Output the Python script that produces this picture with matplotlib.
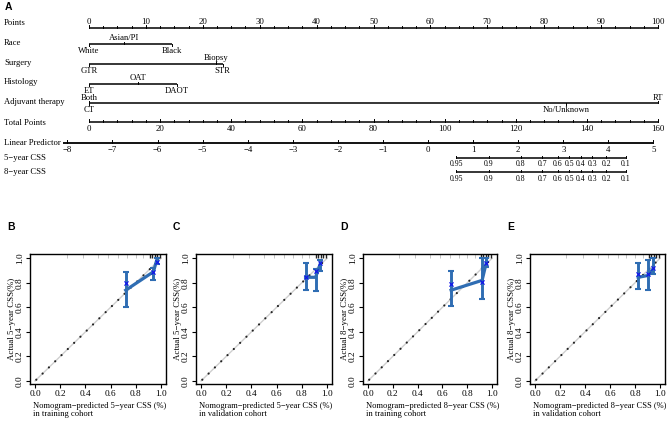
import numpy as np
import matplotlib
matplotlib.use('Agg')
import matplotlib.pyplot as plt
import matplotlib.transforms as mtransforms

plt.rcParams['font.family'] = ['Liberation Serif', 'DejaVu Serif']

W, H = 669, 423

# ---- nomogram data (points per level) ----
race_levels = ['White', 'Asian/PI', 'Black']
race_points = [0, 6.2, 14.5]
surgery_levels = ['GTR', 'Biopsy', 'STR']
surgery_points = [0, 22.4, 23.5]
histology_levels = ['ET', 'OAT', 'DAOT']
histology_points = [0, 8.6, 15.4]
adjuvant_levels = ['CT', 'Both', 'No/Unknown', 'RT']
adjuvant_points = [0, 0, 83.8, 100]

points_ticks = list(range(0, 101, 10))
total_ticks = list(range(0, 161, 20))
total_max = 160
lp_ticks = list(range(-8, 6))
lp_at_zero_points = -7.52
lp_per_point = 0.1262
css_ticks = [0.95, 0.9, 0.8, 0.7, 0.6, 0.5, 0.4, 0.3, 0.2, 0.1]
css5_lp = [0.62, 1.35, 2.06, 2.53, 2.88, 3.13, 3.39, 3.64, 3.95, 4.39]
css8_lp = [0.62, 1.35, 2.06, 2.53, 2.88, 3.13, 3.39, 3.64, 3.95, 4.39]

# ---- calibration data ----
b_pred = [0.72, 0.94, 0.965]
b_obs = [0.74, 0.89, 0.98]
b_lo = [0.60, 0.82, 0.95]
b_hi = [0.89, 0.92, 1.00]
b_corr = [0.80, 0.89, 0.97]

c_pred = [0.83, 0.91, 0.945]
c_obs = [0.845, 0.845, 0.95]
c_lo = [0.74, 0.73, 0.90]
c_hi = [0.96, 0.91, 0.99]
c_corr = [0.85, 0.90, 0.96]

d_pred = [0.67, 0.92, 0.955]
d_obs = [0.74, 0.82, 0.97]
d_lo = [0.61, 0.67, 0.93]
d_hi = [0.90, 1.00, 1.00]
d_corr = [0.79, 0.81, 0.96]

e_pred = [0.825, 0.905, 0.945]
e_obs = [0.845, 0.86, 0.915]
e_lo = [0.75, 0.74, 0.87]
e_hi = [0.965, 0.99, 1.00]
e_corr = [0.87, 0.87, 0.92]

rug_dark = [0.91, 0.93, 0.95, 0.97, 0.99]
rug_light = [0.25, 0.38, 0.5, 0.58, 0.66, 0.73, 0.8, 0.86]

calib_labels = ['B', 'C', 'D', 'E']
calib_years = ['5', '5', '8', '8']
calib_cohorts = ['training', 'validation', 'training', 'validation']

BLUE = '#2f6db3'

fig = plt.figure(figsize=(W / 100, H / 100), dpi=100)

# ---------------- nomogram ----------------
PX0, PX_PER_PT = 89, 5.69
NOM_H = 190
ax = fig.add_axes([0, 1 - NOM_H / H, 1, NOM_H / H])
ax.set_xlim(-PX0 / PX_PER_PT, (W - PX0) / PX_PER_PT)
ax.set_ylim(NOM_H, 0)
ax.axis('off')
lab_tr = mtransforms.blended_transform_factory(ax.transAxes, ax.transData)

FS_ROW = 6.2
FS_TICK = 6.3


def row_label(y, text):
    ax.text(4 / W, y, text, transform=lab_tr, ha='left', va='center', fontsize=FS_ROW)


def hline(y, x0, x1, lw=1.1):
    ax.plot([x0, x1], [y, y], color='black', lw=lw, solid_capstyle='butt')


def ticks_up(xs, y, length, lw=0.7):
    for x in xs:
        ax.plot([x, x], [y, y - length], color='black', lw=lw)


def draw_factor(y, levels, pts):
    # labels alternate below / above the line
    hline(y, min(pts), max(pts))
    for i, (lev, p) in enumerate(zip(levels, pts)):
        d = 1 if i % 2 == 0 else -1
        ax.plot([p, p], [y, y + 2 * d], color='black', lw=0.7)
        ax.text(p, y + (6.6 if d > 0 else -5.8), lev, ha='center', va='center', fontsize=FS_ROW)


# Points
y = 28
row_label(23, 'Points')
hline(y, 0, 100)
ticks_up(np.arange(0, 100.1, 2.5), y, 2)
ticks_up(points_ticks, y, 3)
for t in points_ticks:
    ax.text(t, y - 6.5, str(t), ha='center', va='center', fontsize=FS_TICK)

row_label(43, 'Race')
draw_factor(44, race_levels, race_points)
row_label(63, 'Surgery')
draw_factor(64, surgery_levels, surgery_points)
row_label(82, 'Histology')
draw_factor(84, histology_levels, histology_points)
row_label(102, 'Adjuvant therapy')
draw_factor(103.5, adjuvant_levels, adjuvant_points)

# Total points
y = 122
row_label(123, 'Total Points')
hline(y, 0, 100)
ticks_up(np.arange(0, total_max + 0.1, 4) * 100 / total_max, y, 2)
ticks_up(np.array(total_ticks) * 100 / total_max, y, 3)
for t in total_ticks:
    ax.text(t * 100 / total_max, y + 6.5, str(t), ha='center', va='center', fontsize=FS_TICK)


def lp_to_pts(v):
    return (np.asarray(v) - lp_at_zero_points) / lp_per_point


# Linear predictor
y = 143
row_label(143, 'Linear Predictor')
lp_x = lp_to_pts(lp_ticks)
hline(y, lp_x[0] - 0.7, lp_x[-1], lw=1.3)
ticks_up(lp_x, y, 2.5)
for t, x in zip(lp_ticks, lp_x):
    ax.text(x, y + 7, str(t).replace('-', '\u2212'), ha='center', va='center', fontsize=FS_TICK)

# CSS rows
for y, name, lp_vals in [(157.7, '5\u2212year CSS', css5_lp), (172.3, '8\u2212year CSS', css8_lp)]:
    row_label(y, name)
    cx = lp_to_pts(lp_vals)
    hline(y, cx[0], cx[-1])
    ticks_up(cx, y, 2)
    for t, x in zip(css_ticks, cx):
        ax.text(x, y + 6.3, f'{t:g}', ha='center', va='center', fontsize=5.6)

fig.text(5 / W, 1 - 7 / H, 'A', family='Liberation Sans', weight='bold', fontsize=7.5,
         ha='left', va='center')

# ---------------- calibration plots ----------------
panel_left = [30, 196, 363, 530]
panel_width = [136, 136, 134, 135]
AX_TOP, AX_BOT = 254, 384
panels = [(b_pred, b_obs, b_lo, b_hi, b_corr),
          (c_pred, c_obs, c_lo, c_hi, c_corr),
          (d_pred, d_obs, d_lo, d_hi, d_corr),
          (e_pred, e_obs, e_lo, e_hi, e_corr)]

for i, (pred, obs, lo, hi, corr) in enumerate(panels):
    left = panel_left[i]
    cax = fig.add_axes([left / W, 1 - AX_BOT / H, panel_width[i] / W, (AX_BOT - AX_TOP) / H])
    cax.set_xlim(-0.04, 1.04)
    cax.set_ylim(-0.025, 1.035)
    cax.plot([0, 1], [0, 1], color='#cfcfcf', lw=1.0, zorder=1)
    cax.plot([0.01, 0.985], [0.01, 0.985], color='#222222', lw=1.6,
             linestyle=(0, (0.01, 3.95)), dash_capstyle='round', zorder=2)
    cax.plot(rug_light, np.full(len(rug_light), 1.02), '|', ms=2.5, color='#bbbbbb', mew=0.6)
    cax.plot(rug_dark, np.full(len(rug_dark), 1.02), '|', ms=3, color='#222222', mew=1.0)

    pred = np.array(pred)
    obs = np.array(obs)
    cax.errorbar(pred, obs, yerr=[obs - np.array(lo), np.array(hi) - obs], color=BLUE,
                 lw=2.3, elinewidth=2.1, capsize=2.2, capthick=1.5, zorder=3)
    cax.scatter(pred, corr, marker='x', color='#1010ee', s=9, lw=0.8, zorder=4)

    ticks = [0.0, 0.2, 0.4, 0.6, 0.8, 1.0]
    cax.set_xticks(ticks)
    cax.set_xticklabels([f'{t:.1f}' for t in ticks])
    cax.set_yticks(ticks)
    cax.set_yticklabels([f'{t:.1f}' for t in ticks], rotation=90, va='center')
    cax.tick_params(direction='out', length=3, width=0.8, labelsize=6.7, pad=1.5)
    for s in cax.spines.values():
        s.set_linewidth(1.0)

    yr = calib_years[i]
    fig.text((left - 18) / W, 1 - 319 / H, f'Actual {yr}\u2212year CSS(%)', rotation=90,
             ha='center', va='center', fontsize=6.4)
    fig.text((left + 3) / W, 1 - 410 / H,
             f'Nomogram\u2212predicted {yr}\u2212year CSS (%)\nin {calib_cohorts[i]} cohort',
             ha='left', va='center', fontsize=6.1, linespacing=1.15)
    fig.text((left - 23) / W, 1 - 227 / H, calib_labels[i], family='Liberation Sans',
             weight='bold', fontsize=7.5, ha='left', va='center')

fig.savefig('out.png', dpi=100)
